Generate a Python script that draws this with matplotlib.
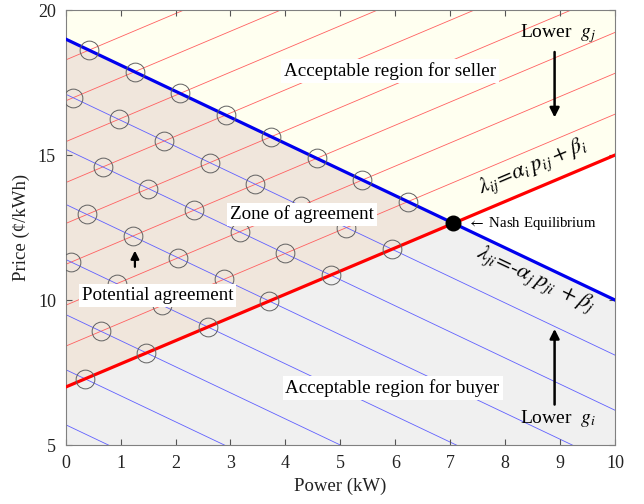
import numpy as np
import matplotlib.pyplot as plt

# seller (red) and buyer (blue) price lines: price = intercept + slope * power
red_intercept, red_slope = 7.0, 0.8
blue_intercept, blue_slope = 19.0, -0.9

# thin iso-lines (intercepts)
red_offsets = [8.41, 9.82, 11.23, 12.64, 14.05, 15.46, 16.87, 18.28]
blue_offsets = [17.1, 15.2, 13.3, 11.4, 9.5, 7.6, 5.7]

x_ticks = [0, 1, 2, 3, 4, 5, 6, 7, 8, 9, 10]
y_ticks = [5, 10, 15, 20]

plt.rcParams['font.family'] = ['Liberation Serif', 'DejaVu Serif']
plt.rcParams['mathtext.fontset'] = 'stix'

fig = plt.figure(figsize=(6.44, 5.04), dpi=100)
ax = fig.add_axes([0.102, 0.117, 0.853, 0.863])

x = np.linspace(0, 10, 501)
red = red_intercept + red_slope * x
blue = blue_intercept + blue_slope * x

ax.fill_between(x, np.maximum(red, blue), 20, color='#fffff0', lw=0, zorder=0)
ax.fill_between(x, 5, np.minimum(red, blue), color='#f0f0f0', lw=0, zorder=0)
ax.fill_between(x, red, blue, where=blue >= red, color='#f0e6dc', lw=0, zorder=0)

for c in red_offsets:
    ax.plot(x, c + red_slope * x, color='#ff6060', lw=0.6, zorder=1)
for c in blue_offsets:
    ax.plot(x, c + blue_slope * x, color='#6060ff', lw=0.6, zorder=1)

# circles where the iso-lines cross inside the zone of agreement
cx, cy = [], []
for cr in [red_intercept] + red_offsets:
    for cb in [blue_intercept] + blue_offsets:
        xi = (cb - cr) / (red_slope - blue_slope)
        if xi >= 0 and not (cr == red_intercept and cb == blue_intercept):
            cx.append(xi)
            cy.append(cr + red_slope * xi)
ax.plot(cx, cy, 'o', ms=13.5, mfc='none', mec='#606060', mew=0.7, zorder=4)

ax.plot(x, blue, color='#0000ee', lw=2.3, zorder=3)
ax.plot(x, red, color='#ff0000', lw=2.3, zorder=3)

xn = (blue_intercept - red_intercept) / (red_slope - blue_slope)
yn = red_intercept + red_slope * xn
ax.plot(xn, yn, 'o', ms=10.5, color='black', zorder=5)
ax.text(xn + 0.25, yn, r'$\leftarrow$ Nash Equilibrium', fontsize=10.7, va='center', zorder=6)

box = dict(facecolor='white', edgecolor='none', pad=2)
ax.text(5.9, 17.9, 'Acceptable region for seller', fontsize=13.7, ha='center', va='center', bbox=box, zorder=6)
ax.text(4.3, 12.95, 'Zone of agreement', fontsize=13.7, ha='center', va='center', bbox=box, zorder=6)
ax.text(1.67, 10.15, 'Potential agreement', fontsize=13.7, ha='center', va='center', bbox=box, zorder=6)
ax.text(5.95, 6.97, 'Acceptable region for buyer', fontsize=13.7, ha='center', va='center', bbox=box, zorder=6)

ax.text(8.27, 19.2, r'Lower  $g_j$', fontsize=14, va='center', zorder=6)
ax.text(8.27, 5.9, r'Lower  $g_i$', fontsize=14, va='center', zorder=6)
ax.annotate('', xy=(8.9, 16.2), xytext=(8.9, 18.65),
            arrowprops=dict(arrowstyle='-|>', color='black', lw=1.8, mutation_scale=14), zorder=6)
ax.annotate('', xy=(8.9, 9.1), xytext=(8.9, 6.3),
            arrowprops=dict(arrowstyle='-|>', color='black', lw=1.8, mutation_scale=14), zorder=6)
ax.annotate('', xy=(1.26, 11.8), xytext=(1.26, 11.05),
            arrowprops=dict(arrowstyle='-|>', color='black', lw=1.6, mutation_scale=12), zorder=6)

ax.text(8.5, 14.6, r'$\lambda_{ij}\!=\!\alpha_i\,p_{ij}+\beta_i$', fontsize=16,
        rotation=22.9, rotation_mode='anchor', ha='center', va='center', zorder=6)
ax.text(8.55, 10.7, r'$\lambda_{ji}\!=\!\text{-}\alpha_j\,p_{ji}\;+\beta_j$', fontsize=16,
        rotation=-25.4, rotation_mode='anchor', ha='center', va='center', zorder=6)

ax.set_xlim(0, 10)
ax.set_ylim(5, 20)
ax.set_xticks(x_ticks)
ax.set_yticks(y_ticks)
ax.tick_params(direction='in', top=True, right=True, length=4, color='#555555',
               labelsize=13, labelcolor='#222222', pad=7)
for s in ax.spines.values():
    s.set_color('#808080')
ax.set_xlabel('Power (kW)', fontsize=13.5, color='#222222', labelpad=4)
ax.set_ylabel('Price (¢/kWh)', fontsize=13.5, color='#222222', labelpad=6)

fig.savefig('out.png', dpi=100)
